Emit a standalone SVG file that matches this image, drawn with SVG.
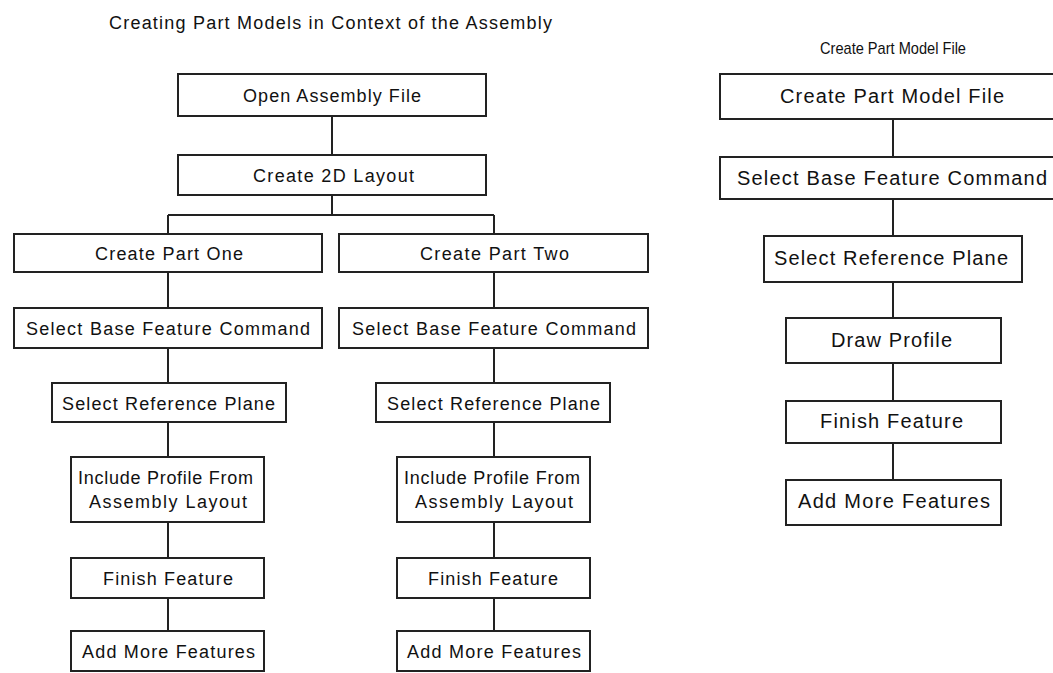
<svg xmlns="http://www.w3.org/2000/svg" width="1053" height="673" viewBox="0 0 1053 673">
<style>
.box{fill:#fff;stroke:#222;stroke-width:2}
.ln{fill:none;stroke:#222;stroke-width:2}
text{font-family:"Liberation Sans",Arial,sans-serif;fill:#111}
.t{font-size:18px}
.r{font-size:20px}
.h2{font-size:17px}
</style>
<rect width="1053" height="673" fill="#fff"/>
<text class="t" x="109" y="28.5" textLength="443" lengthAdjust="spacing">Creating Part Models in Context of the Assembly</text>
<text class="h2" x="820" y="53.5" textLength="146" lengthAdjust="spacingAndGlyphs">Create Part Model File</text>
<g id="connectors">
<path class="ln" d="M332 116V155M332 195V215M168 215H494M168 215V234M494 215V234"/>
<path class="ln" d="M168 272V308M168 348V383M168 422V457M168 522V558M168 598V631"/>
<path class="ln" d="M494 272V308M494 348V383M494 422V457M494 522V558M494 598V631"/>
<path class="ln" d="M893 119V157M893 199V236M893 282V318M893 363V401M893 443V480"/>
</g>
<g id="open-assembly"><rect class="box" x="178" y="74" width="308" height="42"/><text class="t" x="243" y="101.5" textLength="178" lengthAdjust="spacing">Open Assembly File</text></g>
<g id="create-2d-layout"><rect class="box" x="178" y="155" width="308" height="40"/><text class="t" x="253" y="181.5" textLength="161" lengthAdjust="spacing">Create 2D Layout</text></g>
<g id="part-one"><rect class="box" x="14" y="234" width="308" height="38"/><text class="t" x="95" y="260" textLength="148" lengthAdjust="spacing">Create Part One</text></g>
<g id="base-1"><rect class="box" x="14" y="308" width="308" height="40"/><text class="t" x="26" y="335" textLength="284" lengthAdjust="spacing">Select Base Feature Command</text></g>
<g id="plane-1"><rect class="box" x="52" y="383" width="234" height="39"/><text class="t" x="62" y="409.5" textLength="213" lengthAdjust="spacing">Select Reference Plane</text></g>
<g id="include-1"><rect class="box" x="71" y="457" width="193" height="65"/><text class="t" x="78" y="484" textLength="175" lengthAdjust="spacing">Include Profile From</text><text class="t" x="89" y="508" textLength="158" lengthAdjust="spacing">Assembly Layout</text></g>
<g id="finish-1"><rect class="box" x="71" y="558" width="193" height="40"/><text class="t" x="103" y="585" textLength="130" lengthAdjust="spacing">Finish Feature</text></g>
<g id="more-1"><rect class="box" x="71" y="631" width="193" height="40"/><text class="t" x="82" y="658" textLength="173" lengthAdjust="spacing">Add More Features</text></g>
<g id="part-two"><rect class="box" x="339" y="234" width="309" height="38"/><text class="t" x="420" y="260" textLength="149" lengthAdjust="spacing">Create Part Two</text></g>
<g id="base-2"><rect class="box" x="339" y="308" width="309" height="40"/><text class="t" x="352" y="335" textLength="284" lengthAdjust="spacing">Select Base Feature Command</text></g>
<g id="plane-2"><rect class="box" x="376" y="383" width="234" height="39"/><text class="t" x="387" y="409.5" textLength="213" lengthAdjust="spacing">Select Reference Plane</text></g>
<g id="include-2"><rect class="box" x="397" y="457" width="193" height="65"/><text class="t" x="404" y="484" textLength="176" lengthAdjust="spacing">Include Profile From</text><text class="t" x="415" y="508" textLength="158" lengthAdjust="spacing">Assembly Layout</text></g>
<g id="finish-2"><rect class="box" x="397" y="558" width="193" height="40"/><text class="t" x="428" y="585" textLength="130" lengthAdjust="spacing">Finish Feature</text></g>
<g id="more-2"><rect class="box" x="397" y="631" width="193" height="40"/><text class="t" x="407" y="658" textLength="174" lengthAdjust="spacing">Add More Features</text></g>
<g id="r-create"><rect class="box" x="720" y="74" width="346" height="45"/><text class="r" x="780" y="103" textLength="224" lengthAdjust="spacing">Create Part Model File</text></g>
<g id="r-base"><rect class="box" x="720" y="157" width="346" height="42"/><text class="r" x="737" y="185" textLength="310" lengthAdjust="spacing">Select Base Feature Command</text></g>
<g id="r-plane"><rect class="box" x="764" y="236" width="258" height="46"/><text class="r" x="774" y="265" textLength="234" lengthAdjust="spacing">Select Reference Plane</text></g>
<g id="r-draw"><rect class="box" x="786" y="318" width="215" height="45"/><text class="r" x="831" y="346.5" textLength="121" lengthAdjust="spacing">Draw Profile</text></g>
<g id="r-finish"><rect class="box" x="786" y="401" width="215" height="42"/><text class="r" x="820" y="428" textLength="143" lengthAdjust="spacing">Finish Feature</text></g>
<g id="r-more"><rect class="box" x="786" y="480" width="215" height="45"/><text class="r" x="798" y="508" textLength="192" lengthAdjust="spacing">Add More Features</text></g>
</svg>
